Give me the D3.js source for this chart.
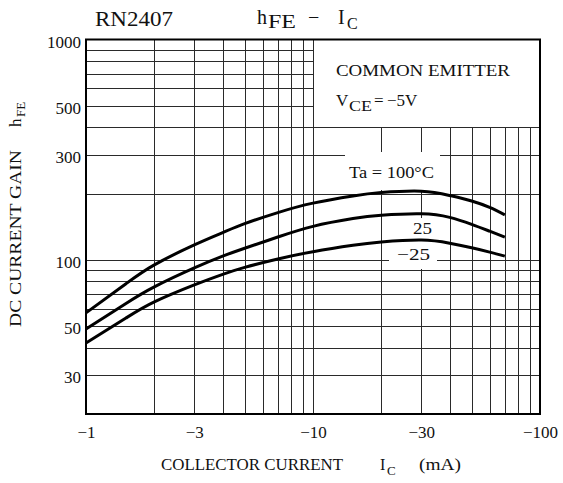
<!DOCTYPE html>
<html>
<head>
<meta charset="utf-8">
<script src="https://cdn.jsdelivr.net/npm/d3@7"></script>
<style>
  html, body { margin: 0; padding: 0; background: #fff; }
  svg { display: block; }
  text { font-family: "Liberation Serif", "DejaVu Serif", serif; fill: #111; }
</style>
</head>
<body>
<svg id="chart" width="563" height="483"></svg>
<script>
// ---- data ----
const icMA = [1, 1.5, 2, 3, 4, 5, 7, 10, 15, 20, 30, 40, 50, 60, 70];   // |Ic| in mA
const hfeTa100 = [57.5, 78, 95, 117, 133, 146, 164, 181, 195, 202, 205, 196, 185, 173, 160];
const hfeTa25  = [48.6, 63.5, 75.5, 92, 104, 113, 127, 142, 154, 159.5, 162, 156, 145, 135, 127];
const hfeTaM25 = [42, 54.5, 64.5, 77, 86, 92.5, 101, 109, 116.5, 120.5, 123, 119, 113.5, 108.5, 104];
const xTickValues = [1, 3, 10, 30, 100];
const xTickLabels = ["\u22121", "\u22123", "\u221210", "\u221230", "\u2212100"];
const yTickValues = [30, 50, 100, 300, 500, 1000];
const yTickLabels = ["30", "50", "100", "300", "500", "1000"];
const xGridValues = [2, 3, 4, 5, 6, 7, 8, 9, 10, 20, 30, 40, 50, 60, 70, 80, 90];
const yGridValues = [30, 40, 50, 60, 70, 80, 90, 100, 200, 300, 400, 500, 600, 700, 800, 900];

const svg = d3.select("#chart");
const x = d3.scaleLog().domain([1, 100]).range([86, 540]);
const y = d3.scaleLog().domain([20, 1000]).range([414, 39.5]);
const px = v => Math.round(v) + 0.5;

// grid
const grid = svg.append("g").attr("stroke", "#2a2a2a").attr("stroke-width", 1).attr("shape-rendering", "crispEdges");
grid.selectAll("line.v").data(xGridValues).join("line")
  .attr("x1", d => px(x(d))).attr("x2", d => px(x(d)))
  .attr("y1", y(1000)).attr("y2", y(20));
grid.selectAll("line.h").data(yGridValues).join("line")
  .attr("x1", x(1)).attr("x2", x(100))
  .attr("y1", d => px(y(d))).attr("y2", d => px(y(d)));

// white areas (legend box and label gaps)
const white = svg.append("g").attr("fill", "#fff");
white.append("rect").attr("x", px(x(10)) + 0.5).attr("y", y(1000))
  .attr("width", x(100) - px(x(10)) - 0.5).attr("height", px(y(400)) - 0.5 - y(1000));
white.append("rect").attr("x", 345).attr("y", 152).attr("width", 95).attr("height", 38);
white.append("rect").attr("x", 408).attr("y", 218).attr("width", 29).attr("height", 27);
white.append("rect").attr("x", 389).attr("y", 244).attr("width", 48).attr("height", 25);

// curves
const line = d3.line().x(d => x(d[0])).y(d => y(d[1])).curve(d3.curveNatural);
[hfeTa100, hfeTa25, hfeTaM25].forEach(series => {
  svg.append("path").datum(icMA.map((v, i) => [v, series[i]]))
    .attr("d", line).attr("fill", "none").attr("stroke", "#000")
    .attr("stroke-width", 3).attr("stroke-linejoin", "round");
});

// frame
svg.append("rect").attr("x", x(1)).attr("y", y(1000))
  .attr("width", x(100) - x(1)).attr("height", y(20) - y(1000))
  .attr("fill", "none").attr("stroke", "#000").attr("stroke-width", 2);

// axes via d3 (ticks hidden, labels only)
const xAxis = d3.axisBottom(x).tickValues(xTickValues).tickSize(0)
  .tickFormat((d, i) => xTickLabels[i]);
const gx = svg.append("g").attr("transform", `translate(0,${y(20)})`).call(xAxis);
gx.select(".domain").remove();
gx.selectAll("text").attr("y", 0).attr("dy", 0).attr("transform", "translate(0,24)")
  .style("font-family", "'Liberation Serif', serif").style("font-size", "17px").attr("fill", "#111");

const yAxis = d3.axisLeft(y).tickValues(yTickValues).tickSize(0)
  .tickFormat((d, i) => yTickLabels[i]);
const gy = svg.append("g").attr("transform", `translate(81,0)`).call(yAxis);
gy.select(".domain").remove();
gy.selectAll("text").attr("x", 0).attr("dy", 0).attr("transform", "translate(0,7.5)")
  .style("font-family", "'Liberation Serif', serif").style("font-size", "17px").attr("fill", "#111");

// titles
function txt(s, xx, yy, size, len, anchor, adj) {
  const t = svg.append("text").attr("x", xx).attr("y", yy).attr("font-size", size).text(s);
  if (len) t.attr("textLength", len).attr("lengthAdjust", adj || "spacingAndGlyphs");
  if (anchor) t.attr("text-anchor", anchor);
  return t;
}
txt("RN2407", 95, 26, 21, 78);
txt("h", 257, 24, 20);
txt("FE", 268, 28, 18, 28);
txt("\u2212", 308, 24, 20);
txt("I", 338, 24, 20);
txt("C", 347, 29, 16);

txt("COMMON EMITTER", 336, 76, 17, 174);
txt("V", 336, 106, 17);
txt("CE", 349, 111, 14, 23);
txt("=", 374, 106, 17);
txt("\u22125V", 387, 106, 17);

txt("Ta = 100\u00b0C", 349, 178, 17, 85);
txt("25", 413, 234, 17, 19);
txt("\u221225", 397, 260, 17, 33);

// x title
txt("COLLECTOR CURRENT", 161, 470, 16, 182);
txt("I", 380, 470, 16);
txt("C", 387, 475, 13);
txt("(mA)", 419, 470, 16, 42);

// y title
const yt = svg.append("g").attr("transform", "translate(21,327) rotate(-90)");
yt.append("text").attr("x", 0).attr("y", 0).attr("font-size", 17).attr("textLength", 177)
  .attr("lengthAdjust", "spacingAndGlyphs").text("DC CURRENT GAIN");
yt.append("text").attr("x", 200).attr("y", 0).attr("font-size", 17).text("h");
yt.append("text").attr("x", 210).attr("y", 4).attr("font-size", 13).text("FE");
</script>
</body>
</html>
